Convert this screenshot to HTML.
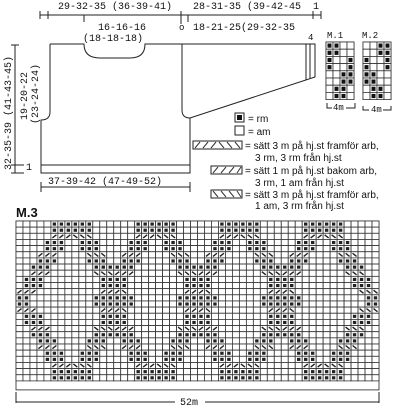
<!DOCTYPE html>
<html><head><meta charset="utf-8">
<style>
html,body{margin:0;padding:0;background:#fff;}
body{width:400px;height:408px;overflow:hidden;position:relative;font-family:"Liberation Sans",sans-serif;}
svg{position:absolute;left:0;top:0;}
text{font-family:"Liberation Mono",monospace;fill:#111;}
.lg{font-family:"Liberation Sans",sans-serif;font-size:10px;}
</style></head>
<body>
<svg width="400" height="408" viewBox="0 0 400 408">
<g stroke="#222" fill="none" stroke-width="1">
  <line x1="40" y1="15" x2="321" y2="15"/>
  <line x1="40" y1="11" x2="40" y2="19"/><line x1="48" y1="11" x2="48" y2="19"/>
  <line x1="84" y1="15" x2="84" y2="22"/><line x1="181" y1="11" x2="181" y2="24"/>
  <line x1="188" y1="15" x2="188" y2="22"/><line x1="313" y1="11" x2="313" y2="19"/><line x1="321" y1="11" x2="321" y2="19"/>
  <path d="M50 44 L84 44 Q84 58 100 58 L130 58 Q145 58 145 44 L315 44 L315 77 L190 118 Q182 118 182 110 L182 44"/>
  <path d="M50 44 L50 112 Q50 120 41 120 L41 173 L190 173 L190 118"/>
  <line x1="41" y1="165" x2="190" y2="165"/>
  <line x1="310" y1="44" x2="310" y2="78"/><line x1="306" y1="44" x2="306" y2="80"/>
  <line x1="15" y1="45" x2="15" y2="173"/><line x1="11" y1="45" x2="19" y2="45"/><line x1="11" y1="173" x2="24" y2="173"/>
  <line x1="11" y1="165" x2="24" y2="165"/>
  <line x1="41" y1="187" x2="190" y2="187"/><line x1="41" y1="182" x2="41" y2="192"/><line x1="190" y1="182" x2="190" y2="192"/>
</g>
<g font-size="10">
  <text x="58" y="9">29-32-35 (36-39-41)</text>
  <text x="193" y="9">28-31-35 (39-42-45</text>
  <text x="313" y="9">1</text>
  <text x="98" y="30">16-16-16</text>
  <text x="83" y="41">(18-18-18)</text>
  <text x="179" y="30" font-size="9">o</text>
  <text x="193" y="30">18-21-25(29-32-35</text>
  <text x="308" y="40" font-size="9">4</text>
  <text x="26" y="170">1</text>
  <text x="48" y="184">37-39-42 (47-49-52)</text>
  <text transform="translate(11,170) rotate(-90)">32-35-39 (41-43-45)</text>
  <text transform="translate(27,120) rotate(-90)">19-20-22</text>
  <text transform="translate(38,124) rotate(-90)">(23-24-24)</text>
</g>
<g id="m1"></g>
<g id="m2"></g>
<g font-size="9">
  <text x="327" y="38">M.1</text><text x="362" y="38">M.2</text>
  <text x="333" y="110">4m</text><text x="371" y="112">4m</text>
  <path d="M327 103 L327 108 L332 108 M346 108 L355 108 L355 103 M363 106 L363 110 L369 110 M383 110 L391 110 L391 106" stroke="#222" fill="none"/>
</g>
<g>
  <rect x="235" y="113" width="9" height="9" fill="#fff" stroke="#222"/><rect x="237" y="115" width="5" height="5" fill="#111"/>
  <text class="lg" x="248" y="122">= rm</text>
  <rect x="235" y="126" width="9" height="9" fill="#fff" stroke="#222"/>
  <text class="lg" x="248" y="135">= am</text>
  <rect x="193" y="141" width="49" height="8" fill="#fff" stroke="#222"/>
  <path d="M195 148 l5 -6 M203 148 l5 -6 M211 148 l5 -6 M219 142 l5 6 M227 142 l5 6 M235 142 l5 6" stroke="#333"/>
  <text class="lg" x="245" y="149">= sätt 3 m på hj.st framför arb,</text>
  <text class="lg" x="255" y="161">3 rm, 3 rm från hj.st</text>
  <rect x="211" y="166" width="31" height="8" fill="#fff" stroke="#222"/>
  <path d="M213 173 l5 -6 M221 173 l5 -6 M229 173 l5 -6 M237 173 l4 -6" stroke="#333"/>
  <text class="lg" x="245" y="174">= sätt 1 m på hj.st bakom arb,</text>
  <text class="lg" x="255" y="186">3 rm, 1 am från hj.st</text>
  <rect x="211" y="190" width="31" height="8" fill="#fff" stroke="#222"/>
  <path d="M213 191 l5 6 M221 191 l5 6 M229 191 l5 6 M237 191 l4 6" stroke="#333"/>
  <text class="lg" x="245" y="198">= sätt 3 m på hj.st framför arb,</text>
  <text class="lg" x="255" y="209">1 am, 3 rm från hj.st</text>
</g>
<text x="16" y="217" font-size="13" font-weight="bold" style="font-family:'Liberation Sans',sans-serif">M.3</text>
<g id="m3"></g>
<g>
  <line x1="16" y1="392" x2="16" y2="403" stroke="#222"/><line x1="379" y1="392" x2="379" y2="403" stroke="#222"/>
  <line x1="16" y1="402" x2="175" y2="402" stroke="#222"/><line x1="205" y1="402" x2="379" y2="402" stroke="#222"/>
  <text x="180" y="405" font-size="10">52m</text>
</g>
</svg>
<script>
const NS="http://www.w3.org/2000/svg";
const m1Rows=["##..","##..","#..#","#..#","..##","..##",".##.",".##."];
const m2Rows=["..##","..##","#..#","#..#","##..","##..",".##.",".##."];
const m3Centres=[8,20,32,44];
const m3Cols=52, m3RowsN=26;
function rect(g,x,y,w,h,fill,stroke){const r=document.createElementNS(NS,'rect');r.setAttribute('x',x);r.setAttribute('y',y);r.setAttribute('width',w);r.setAttribute('height',h);r.setAttribute('fill',fill);if(stroke){r.setAttribute('stroke',stroke);r.setAttribute('stroke-width','0.8');}g.appendChild(r);return r;}
function small(id,rows,x0){const g=document.getElementById(id);const cw=7,ch=7.2,y0=42;
 rect(g,x0,y0,cw*4,ch*8,'#fff','#222');
 rows.forEach((row,r)=>{for(let c=0;c<4;c++){const cell=rect(g,x0+c*cw,y0+r*ch,cw,ch,'#fff','#333');
 
 
 if(row[c]==='#'){const d=rect(g,x0+c*cw+1.5,y0+r*ch+1.5,cw-3,ch-3,'#111');
 }}});}
small('m1',m1Rows,326);small('m2',m2Rows,363);
(function(){const g=document.getElementById('m3');const x0=16,y0=221,cw=363/52,ch=6.15;
 const grid=[];for(let r=0;r<m3RowsN;r++){grid.push(new Array(m3Cols).fill('.'));}
 function set(r,c,v){if(r>=0&&r<m3RowsN&&c>=0&&c<m3Cols)grid[r][c]=v;}
 m3Centres.forEach((cx,i)=>{
  for(let c=cx-3;c<cx+3;c++){set(0,c,'#');set(1,c,'#');set(24,c,'#');set(25,c,'#');}
  for(let r=2;r<24;r++){const d=r<13?(r-2)*0.55:(23-r)*0.55;const off=Math.round(d);
   for(let k=0;k<3;k++){set(r,cx-3-off+k,(r%3===2)?'/':'#');set(r,cx+off+k,(r%3===2)?'\\':'#');}}
 });
 rect(g,x0,y0,363,ch*m3RowsN+9,'#fff','#222');
 for(let r=0;r<m3RowsN;r++)for(let c=0;c<m3Cols;c++){const x=x0+c*cw,y=y0+r*ch;const v=grid[r][c];
  const cell=rect(g,x,y,cw,ch,'#fff','#333');
  
  
  if(v==='#'){rect(g,x+1.8,y+1.5,cw-3.6,ch-3,'#222');}
  else if(v==='/'||v==='\\'){const l=document.createElementNS(NS,'line');
   l.setAttribute('x1',x+1.5);l.setAttribute('x2',x+cw-1.5);
   l.setAttribute('y1',v==='/'?y+ch-1.5:y+1.5);l.setAttribute('y2',v==='/'?y+1.5:y+ch-1.5);
   l.setAttribute('stroke','#222');l.setAttribute('stroke-width','1.4');g.appendChild(l);}}
})();
</script>
</body></html>
